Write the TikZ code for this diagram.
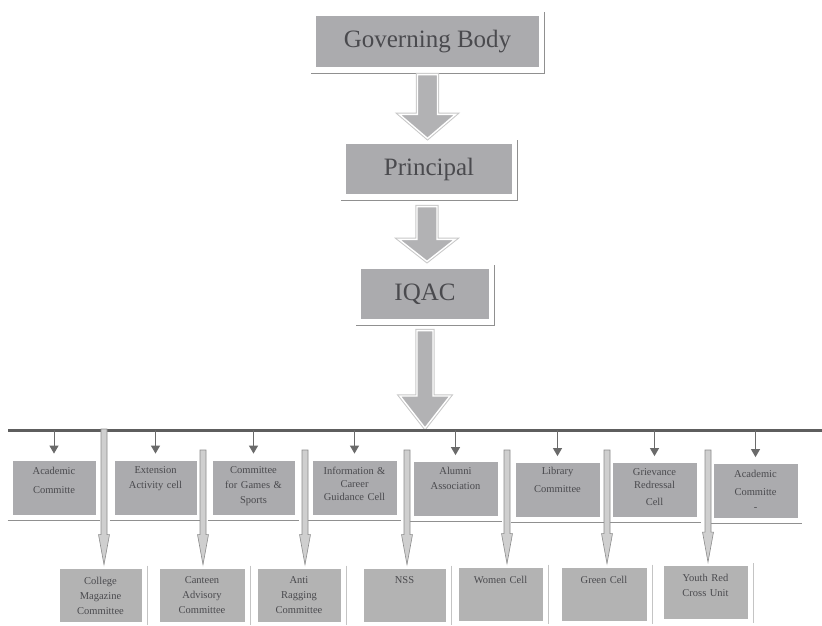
\documentclass[tikz,border=0pt]{standalone}
\usepackage{fontspec}
\setmainfont{Liberation Serif}
\usetikzlibrary{calc,arrows.meta}
\definecolor{boxgray}{HTML}{ABABAE}
\definecolor{boxgrayb}{HTML}{B3B3B3}
\definecolor{txtgray}{HTML}{4A4A4E}
\definecolor{shadowgray}{HTML}{909090}
\definecolor{faintgray}{HTML}{C4C4C4}
\definecolor{arrowfill}{HTML}{B2B2B4}
\definecolor{arrowedge}{HTML}{C8C8C8}
\definecolor{busgray}{HTML}{5E5E5E}
\definecolor{bargray}{HTML}{CFCFCF}
\definecolor{baredge}{HTML}{8C8C8C}
\definecolor{tipgray}{HTML}{6A6A6A}

\newcommand\blockarr[5]{%
  \path[blockarrow] let \p1=(#1), \p2=(#2) in
    ({\x1-#3},{\y1}) -- ({\x1+#3},{\y1}) -- ({\x1+#3},{\y2+#5}) --
    ({\x1+#4},{\y2+#5}) -- ({\x1},{\y2}) -- ({\x1-#4},{\y2+#5}) --
    ({\x1-#3},{\y2+#5}) -- cycle;}
\newcommand\tallbar[2]{%
  \path[tallbarstyle] let \p1=(#1), \p2=(#2) in
    ({\x1-3pt},{\y1}) -- ({\x1+3pt},{\y1}) -- ({\x1+3pt},{\y2+30pt}) --
    ({\x1+5.5pt},{\y2+30pt}) -- ({\x1},{\y2}) -- ({\x1-5.5pt},{\y2+30pt}) --
    ({\x1-3pt},{\y2+30pt}) -- cycle;}
\newcommand\shadowframe[1]{%
  \draw[shadowline] ($(#1.north east)+(4,-2)$) -- ($(#1.south east)+(4,5)$) -- ($(#1.south west)+(-3,5)$);}
\newcommand\lowframe[1]{%
  \draw[faintline] ($(#1.north east)+(5,-2)$) -- ($(#1.south east)+(5,3)$);}

\begin{document}
\begin{tikzpicture}[x=1pt,y=-1pt,
  bigbox/.style={draw=white, line width=1.2pt, fill=boxgray, text=txtgray,
    font=\fontsize{25}{30}\selectfont, inner sep=0pt},
  topbox/.style={draw=white, line width=0.8pt, fill=boxgray, minimum height=55pt, inner sep=0pt},
  lowbox/.style={draw=white, line width=0.8pt, fill=boxgrayb, minimum height=54pt, inner sep=0pt},
  boxtext/.style={text=txtgray, font=\fontsize{10.5}{15}\selectfont, align=center,
    anchor=north, text width=82pt, inner sep=0pt},
  shadowline/.style={draw=shadowgray, line width=1.1pt},
  faintline/.style={draw=faintgray, line width=0.8pt},
  blockarrow/.style={fill=arrowfill, draw=white, line width=1.4pt,
    preaction={draw=arrowedge, line width=3.4pt}},
  tallbarstyle/.style={fill=bargray, draw=baredge, line width=0.6pt},
  busline/.style={draw=busgray, line width=3pt},
  smallarrow/.style={draw=tipgray, line width=1pt, -{Triangle[width=9pt,length=8pt]}}
]
\useasboundingbox (0,0) rectangle (822,626);
\fill[white] (0,0) rectangle (822,626);

% top hierarchy
\node[bigbox, minimum width=225pt, minimum height=53pt] (gb) at (427.5,41.5) {Governing Body};
\node[bigbox, minimum width=168pt, minimum height=52pt] (pr) at (429,169) {Principal};
\node[bigbox, minimum width=130pt, minimum height=52pt] (iq) at (425,294) {IQAC};
\shadowframe{gb}
\shadowframe{pr}
\shadowframe{iq}

% bus line
\coordinate (busL) at (8,430);
\coordinate (busR) at (822,430);

\blockarr{$(gb.south)+(0,6)$}{$(pr.north)+(0,-4)$}{10pt}{28pt}{24pt}
\blockarr{$(pr.south |- gb.south)+(-2,138)$}{$(iq.north)+(2,-6)$}{10pt}{28pt}{22pt}
\blockarr{$(iq.south)+(0,10)$}{$(iq.south |- busL)+(0,-2)$}{8pt}{25pt}{32pt}

\draw[busline] (busL) -- (busR);

% first row of committees
\node[topbox, minimum width=84pt] (t1) at (54,487.5) {};
\node[topbox, minimum width=83pt] (t2) at (155.5,487.5) {};
\node[topbox, minimum width=83pt] (t3) at (253.5,487.5) {};
\node[topbox, minimum width=85pt] (t4) at (354.5,487.5) {};
\node[topbox, minimum width=85pt] (t5) at (455.5,489) {};
\node[topbox, minimum width=85pt] (t6) at (557.5,490) {};
\node[topbox, minimum width=85pt] (t7) at (654.5,490) {};
\node[topbox, minimum width=85pt] (t8) at (755.5,491) {};

\node[boxtext] (t1x) at ($(t1.north)+(0,7)$) {Academic\\[4pt]Committe};
\node[boxtext] (t2x) at ($(t2.north)+(0,7)$) {Extension\\Activity cell};
\node[boxtext] (t3x) at ($(t3.north)+(0,7)$) {Committee\\for Games \&\\Sports};
\node[boxtext] (t4x) at ($(t4.north)+(0,7)$) {Information \&\\[-2pt]Career\\[-2pt]Guidance Cell};
\node[boxtext] (t5x) at ($(t5.north)+(0,6)$) {Alumni\\Association};
\node[boxtext] (t6x) at ($(t6.north)+(0,5)$) {Library\\[3pt]Committee};
\node[boxtext] (t7x) at ($(t7.north)+(0,6)$) {Grievance\\[-2pt]Redressal\\[2pt]Cell};
\node[boxtext] (t8x) at ($(t8.north)+(0,7)$) {Academic\\[3pt]Committe\\-};

\foreach \t in {t1,t2,t3,t4,t5,t6,t7,t8}{
  \draw[shadowline] ($(\t.south west)+(-4,5)$) -- ($(\t.south east)+(4,5)$);
  \draw[smallarrow] (\t.north |- busL) -- ($(\t.north)+(0,-6)$);
}

% second row of committees
\node[lowbox, minimum width=83pt] (c1) at (100.5,595) {};
\node[lowbox, minimum width=86pt] (c2) at (202,595) {};
\node[lowbox, minimum width=84pt] (c3) at (299,595) {};
\node[lowbox, minimum width=83pt] (c4) at (404.5,595) {};
\node[lowbox, minimum width=85pt] (c5) at (500.5,594) {};
\node[lowbox, minimum width=86pt] (c6) at (604,594) {};
\node[lowbox, minimum width=85pt] (c7) at (705.5,592.5) {};

\node[boxtext] (c1x) at ($(c1.north)+(0,9)$) {College\\Magazine\\Committee};
\node[boxtext] (c2x) at ($(c2.north)+(0,9)$) {Canteen\\Advisory\\Committee};
\node[boxtext] (c3x) at ($(c3.north)+(0,9)$) {Anti\\Ragging\\Committee};
\node[boxtext] (c4x) at ($(c4.north)+(0,9)$) {NSS};
\node[boxtext] (c5x) at ($(c5.north)+(0,9)$) {Women Cell};
\node[boxtext] (c6x) at ($(c6.north)+(0,9)$) {Green Cell};
\node[boxtext] (c7x) at ($(c7.north)+(0,9)$) {Youth Red\\Cross Unit};

\foreach \c in {c1,c2,c3,c4,c5,c6,c7}{\lowframe{\c}}

% long arrows to the second row
\coordinate (s1) at (104,429);
\coordinate (s2) at (203,450);
\coordinate (s3) at (305,450);
\coordinate (s4) at (407,450);
\coordinate (s5) at (507,450);
\coordinate (s6) at (607,450);
\coordinate (s7) at (708,450);
\tallbar{s1}{$(s1 |- c1.north)+(0,-3)$}
\tallbar{s2}{$(s2 |- c2.north)+(0,-3)$}
\tallbar{s3}{$(s3 |- c3.north)+(0,-3)$}
\tallbar{s4}{$(s4 |- c4.north)+(0,-3)$}
\tallbar{s5}{$(s5 |- c5.north)+(0,-3)$}
\tallbar{s6}{$(s6 |- c6.north)+(0,-3)$}
\tallbar{s7}{$(s7 |- c7.north)+(0,-3)$}
\end{tikzpicture}
\end{document}
